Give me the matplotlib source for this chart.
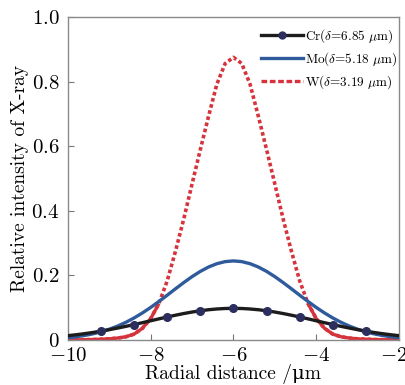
import numpy as np
import matplotlib
matplotlib.use('Agg')
import matplotlib.pyplot as plt
from matplotlib.lines import Line2D
from matplotlib.transforms import ScaledTranslation

plt.rcParams['font.family'] = ['cmr10', 'DejaVu Serif']
plt.rcParams['mathtext.fontset'] = 'cm'
plt.rcParams['axes.unicode_minus'] = False

# radial distance grid (um)
x = [-10.0, -9.8, -9.6, -9.4, -9.2, -9.0, -8.8, -8.6, -8.4, -8.2,
     -8.0, -7.8, -7.6, -7.4, -7.2, -7.0, -6.8, -6.6, -6.4, -6.2,
     -6.0, -5.8, -5.6, -5.4, -5.2, -5.0, -4.8, -4.6, -4.4, -4.2,
     -4.0, -3.8, -3.6, -3.4, -3.2, -3.0, -2.8, -2.6, -2.4, -2.2, -2.0]

# relative intensity
cr = [0.0133, 0.0161, 0.0194, 0.0231, 0.0273, 0.0318, 0.0368, 0.0421, 0.0477, 0.0535,
      0.0594, 0.0654, 0.0712, 0.0767, 0.0819, 0.0865, 0.0905, 0.0937, 0.0960, 0.0975,
      0.0980, 0.0975, 0.0960, 0.0937, 0.0905, 0.0865, 0.0819, 0.0767, 0.0712, 0.0654,
      0.0594, 0.0535, 0.0477, 0.0421, 0.0368, 0.0318, 0.0273, 0.0231, 0.0194, 0.0161, 0.0133]
mo = [0.0070, 0.0099, 0.0138, 0.0188, 0.0252, 0.0332, 0.0429, 0.0545, 0.0681, 0.0836,
      0.1007, 0.1193, 0.1387, 0.1585, 0.1779, 0.1962, 0.2125, 0.2262, 0.2364, 0.2428,
      0.2450, 0.2428, 0.2364, 0.2262, 0.2125, 0.1962, 0.1779, 0.1585, 0.1387, 0.1193,
      0.1007, 0.0836, 0.0681, 0.0545, 0.0429, 0.0332, 0.0252, 0.0188, 0.0138, 0.0099, 0.0070]
w = [0.0003, 0.0005, 0.0008, 0.0013, 0.0022, 0.0035, 0.0058, 0.0098, 0.0180, 0.0360,
     0.0660, 0.1130, 0.1830, 0.2750, 0.3750, 0.4830, 0.5900, 0.6940, 0.7930, 0.8570,
     0.8760, 0.8570, 0.7930, 0.6940, 0.5900, 0.4830, 0.3750, 0.2750, 0.1830, 0.1130,
     0.0660, 0.0360, 0.0180, 0.0098, 0.0058, 0.0035, 0.0022, 0.0013, 0.0008, 0.0005, 0.0003]

labels = [r'Cr($\delta$=6.85 $\mathrm{\mu}$m)',
          r'Mo($\delta$=5.18 $\mathrm{\mu}$m)',
          r'W($\delta$=3.19 $\mathrm{\mu}$m)']
xticks = [-10, -8, -6, -4, -2]
yticks = [0, 0.2, 0.4, 0.6, 0.8, 1.0]
yticklabels = ['0', '0.2', '0.4', '0.6', '0.8', '1.0']

black = '#1c1c1c'
blue = '#2f5b9c'
red = '#d6343c'

fig = plt.figure(figsize=(4.06, 3.85), dpi=100)
ax = fig.add_axes([0.167, 0.117, 0.816, 0.838])

x = np.array(x)
w = np.array(w)

# W: dotted on the upper part, solid in the low tails
ax.plot(x, w, color=red, lw=2.6, ls=(0, (1.0, 0.75)), zorder=2)
w_low = np.where(w <= 0.115, w, np.nan)
ax.plot(x, w_low, color=red, lw=2.4, solid_capstyle='butt', zorder=2)

ax.plot(x, mo, color=blue, lw=2.4, zorder=3)
ax.plot(x, cr, color=black, lw=2.4, marker='o', markersize=5.5,
        markerfacecolor='#2c2f5e', markeredgecolor='#2c2f5e',
        markevery=slice(4, 37, 4), zorder=4)

ax.set_xlim(-10, -2)
ax.set_ylim(0, 1.0)
ax.set_xticks(xticks)
ax.set_xticklabels([r'$-%d$' % abs(t) for t in xticks])
ax.set_yticks(yticks)
ax.set_yticklabels(['$%s$' % t for t in yticklabels])
ax.tick_params(direction='in', length=4, width=0.8, color='#777777',
               labelsize=15, pad=5)
ax.tick_params(axis='y', pad=6)
for s in ax.spines.values():
    s.set_color('#8a8a8a')
    s.set_linewidth(1.0)

# nudge the last x label so it stays inside the figure
last = ax.get_xticklabels()[-1]
last.set_transform(last.get_transform() + ScaledTranslation(-4 / 72, 0, fig.dpi_scale_trans))

ax.set_xlabel('Radial distance /\u03bcm', fontsize=14, labelpad=-1)
ax.set_ylabel('Relative intensity of X-ray', fontsize=14, labelpad=2)

handles = [Line2D([], [], color=black, lw=2.4, marker='o', markersize=5,
                  markerfacecolor='#2c2f5e', markeredgecolor='#2c2f5e'),
           Line2D([], [], color=blue, lw=2.4),
           Line2D([], [], color=red, lw=2.4, ls=(0, (1.7, 0.8)))]
ax.legend(handles, labels, loc='upper right', bbox_to_anchor=(1.03, 1.005),
          frameon=False, fontsize=9.5, handlelength=3.2, handletextpad=0.1,
          labelspacing=0.4, numpoints=1)

fig.savefig('out.png', dpi=100)
